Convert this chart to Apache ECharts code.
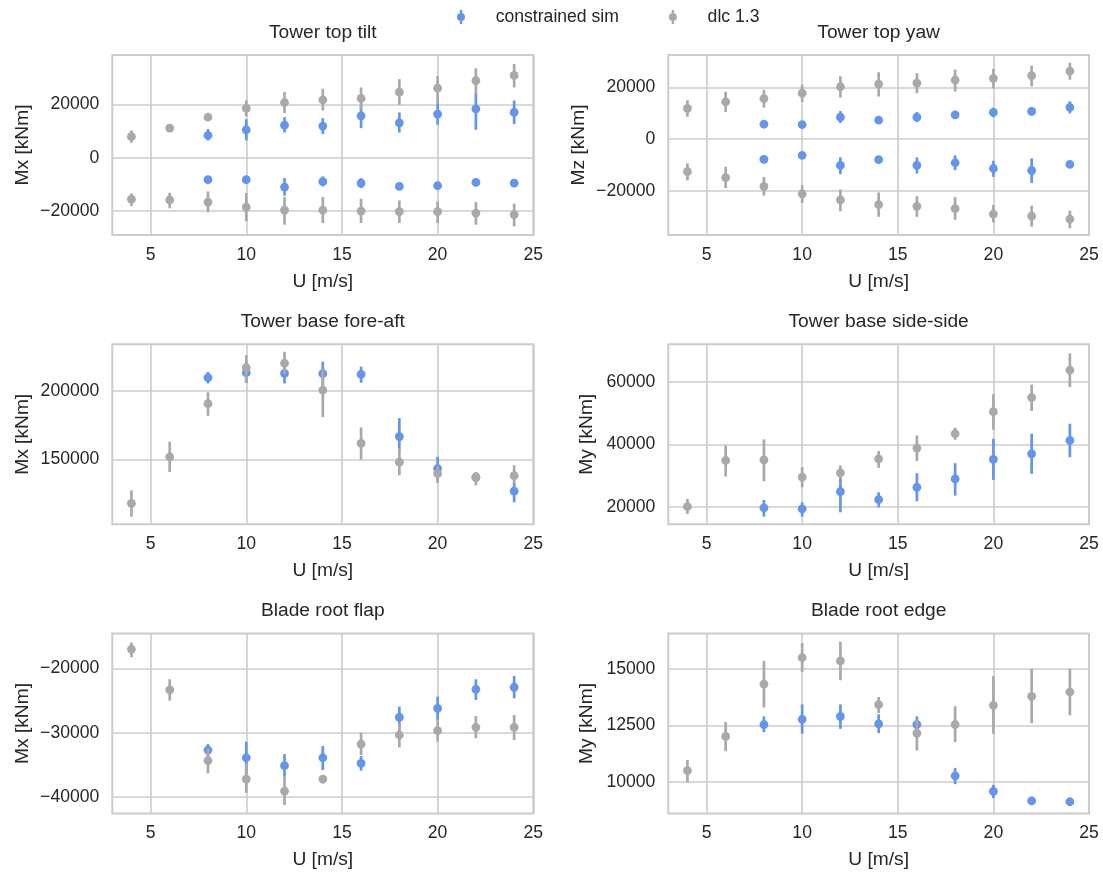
<!DOCTYPE html>
<html><head><meta charset="utf-8">
<script src="https://cdn.jsdelivr.net/npm/echarts@6/dist/echarts.min.js"></script>
<style>html,body{margin:0;padding:0;background:#fff}#chart{width:1103px;height:873px}</style>
</head><body><div id="chart"></div>
<script>
// ---------- data ----------
const windDlc = [4, 6, 8, 10, 12, 14, 16, 18, 20, 22, 24];
const windSim = [8, 10, 12, 14, 16, 18, 20, 22, 24];
const xTicks = [5, 10, 15, 20, 25];
const seriesNames = ['constrained sim', 'dlc 1.3'];
const panelTitles = ['Tower top tilt', 'Tower top yaw', 'Tower base fore-aft', 'Tower base side-side', 'Blade root flap', 'Blade root edge'];
const yLabels = ['Mx [kNm]', 'Mz [kNm]', 'Mx [kNm]', 'My [kNm]', 'Mx [kNm]', 'My [kNm]'];

// each entry: [mean, low, high]
// Tower top tilt
const tiltSimPos = [[8350,6480,10700],[10470,6480,14450],[12200,9470,15200],[11840,8850,14830],[15700,11090,19800],[13080,9470,16950],[16320,12340,20430],[18320,10470,24170],[16950,12580,21430]];
const tiltSimNeg = [[-8220,-8650,-7800],[-8220,-8650,-7800],[-10960,-14200,-7600],[-8970,-10720,-6980],[-9470,-11340,-7600],[-10720,-11150,-10300],[-10470,-10900,-10050],[-9220,-9650,-8800],[-9470,-9800,-9150]];
const tiltDlcPos = [[7900,5600,10200],[11100,10400,11800],[15200,14500,15900],[18440,15450,21430],[20680,16700,24550],[21680,17700,25800],[22180,17900,26300],[24550,19800,29400],[26040,20430,30650],[28900,23900,33500],[30800,26300,35100]];
const tiltDlcNeg = [[-15500,-18100,-13300],[-15800,-18900,-13100],[-16570,-20430,-12580],[-18440,-23800,-13210],[-19560,-25040,-14700],[-19560,-24420,-14700],[-19940,-24420,-15330],[-20190,-24420,-15950],[-20190,-24420,-16320],[-20680,-25040,-16570],[-21300,-25670,-17200]];
// Tower top yaw
const yawSimPos = [[5730,5300,6150],[5600,5200,6000],[8470,6250,10810],[7300,6900,7700],[8470,6510,10420],[9380,8900,9850],[10290,8470,12120],[10680,9120,12120],[12250,9900,14590]];
const yawSimNeg = [[-7820,-8250,-7400],[-6250,-6700,-5800],[-10160,-13550,-7040],[-7950,-8350,-7550],[-10160,-13290,-7040],[-9120,-11990,-6250],[-11340,-14590,-8340],[-12120,-16940,-7430],[-9770,-10150,-9400]];
const yawDlcPos = [[11860,8600,14980],[14330,10420,18240],[15640,12120,19020],[17720,14330,20980],[20200,16030,24230],[21240,16420,25800],[21630,17720,25410],[22800,18370,26840],[23450,19550,27100],[24500,20330,28400],[26190,22930,29450]];
const yawDlcNeg = [[-12510,-15900,-9380],[-14850,-18890,-10680],[-18240,-21760,-14590],[-21110,-24630,-17850],[-23450,-27880,-19410],[-25280,-29970,-20590],[-25930,-29970,-22020],[-26840,-31140,-22410],[-28930,-32180,-25410],[-29710,-33750,-25670],[-30880,-34400,-27620]];
// Tower base fore-aft
const foreAftSim = [[209850,205660,214040],[213550,206160,218970],[213050,205660,218470],[212810,201720,221670],[212320,206160,217980],[166750,157390,180300],[143350,134240,151970],[137190,134730,139170],[126850,118720,133500]];
const foreAftDlc = [[117980,108130,127340],[151970,140890,163050],[190890,182020,199260],[217240,206160,226350],[220440,212320,228820],[200740,181030,216010],[161820,150000,173400],[148030,138430,158130],[139660,132760,145080],[136700,131040,140890],[138180,132270,145820]];
// Tower base side-side
const sideSideSim = [[19630,16840,22200],[19310,16840,21450],[24880,18240,31640],[22310,19850,24670],[26280,21780,30780],[28960,23600,34000],[35180,28640,41820],[37000,30570,43430],[41290,35930,46650]];
const sideSideDlc = [[20060,17700,22530],[34850,29710,39680],[35070,28210,41610],[29490,26280,32710],[30890,28960,33250],[35390,32500,37860],[38820,34640,42890],[43430,41500,45360],[50510,44720,56080],[55010,50720,59190],[63800,58440,69160]];
// Blade root flap
const flapSim = [[-32700,-33640,-31770],[-33900,-36340,-31400],[-35140,-36860,-33330],[-33900,-35820,-32080],[-34780,-35920,-33640],[-27610,-29580,-25950],[-26210,-28030,-24390],[-23250,-24910,-21690],[-22930,-24650,-21170]];
const flapDlc = [[-17010,-18260,-15970],[-23350,-25010,-21690],[-34360,-36340,-32440],[-37220,-39350,-34780],[-39090,-41270,-36860],[-37220,-37900,-36600],[-31770,-33480,-30000],[-30360,-32290,-28550],[-29690,-31400,-27920],[-29170,-30880,-27400],[-29170,-31140,-27250]];
// Blade root edge
const edgeSim = [[12540,12200,12900],[12770,12130,13430],[12900,12350,13430],[12570,12160,12990],[12540,12130,12900],[10270,9900,10620],[9580,9280,9870],[9160,8980,9340],[9120,9020,9220]];
const edgeDlc = [[10500,9980,10970],[12010,11360,12650],[14330,13290,15360],[15500,14870,16140],[15360,14500,16210],[13420,13050,13760],[12160,11390,12750],[12540,11760,13350],[13390,12130,14680],[13790,12600,15000],[13980,12950,15000]];

// y tick labels per panel
const yTicks = [
  [-20000, 0, 20000],
  [-20000, 0, 20000],
  [150000, 200000],
  [20000, 40000, 60000],
  [-40000, -30000, -20000],
  [10000, 12500, 15000]
];
const yRanges = [[-28900, 38450], [-37000, 32450], [102600, 234300], [14400, 72100], [-42580, -14560], [8600, 16570]];

// ---------- styling / layout ----------
const TEXT = '#262626';
const FONT = '"Liberation Sans", Arial, Helvetica, sans-serif';
const BLUE = '#6495ED';
const GRAY = '#A9A9A9';
const GRIDC = '#cccccc';
const colLeft = [112.3, 668.3];
const colWidth = [421, 420.7];
const rowTop = [55, 344.3, 633.5];
const plotH = 180;
const yNameGap = [80, 80, 80, 72, 80, 72];

const grids = [], xAxes = [], yAxes = [], titles = [];
for (let i = 0; i < 6; i++) {
  const c = i % 2, r = Math.floor(i / 2);
  grids.push({left: colLeft[c], top: rowTop[r], width: colWidth[c], height: plotH,
    show: true, borderColor: GRIDC, borderWidth: 2, backgroundColor: 'transparent',
    containLabel: false, outerBoundsMode: 'none'});
  xAxes.push({type: 'value', gridIndex: i, min: 3, max: 25,
    name: 'U [m/s]', nameLocation: 'middle', nameGap: 37,
    nameTextStyle: {fontSize: 19.2, color: TEXT, fontFamily: FONT},
    axisLine: {show: false}, axisTick: {show: false, customValues: xTicks},
    axisLabel: {customValues: xTicks, fontSize: 17.6, color: TEXT, fontFamily: FONT, margin: 11},
    splitLine: {show: true, lineStyle: {color: GRIDC, width: 1.6}}});
  yAxes.push({type: 'value', gridIndex: i, min: yRanges[i][0], max: yRanges[i][1],
    name: yLabels[i], nameLocation: 'middle', nameGap: yNameGap[i], nameRotate: 90,
    nameTextStyle: {fontSize: 19.2, color: TEXT, fontFamily: FONT},
    axisLine: {show: false}, axisTick: {show: false, customValues: yTicks[i]},
    axisLabel: {customValues: yTicks[i], fontSize: 17.6, color: TEXT, fontFamily: FONT, margin: 13,
      formatter: v => (v < 0 ? '\u2212' + Math.abs(v) : String(v))},
    splitLine: {show: true, lineStyle: {color: GRIDC, width: 1.6}}});
  titles.push({text: panelTitles[i], left: colLeft[c] + colWidth[c] / 2, top: rowTop[r] - 32,
    textAlign: 'center', padding: 0,
    textStyle: {fontSize: 19.2, fontWeight: 'normal', color: TEXT, fontFamily: FONT}});
}

function renderErr(params, api) {
  const x = api.value(0), m = api.value(1), lo = api.value(2), hi = api.value(3);
  const pLo = api.coord([x, lo]), pHi = api.coord([x, hi]), pM = api.coord([x, m]);
  const color = api.visual('color');
  return {type: 'group', children: [
    {type: 'line', shape: {x1: pLo[0], y1: pLo[1], x2: pHi[0], y2: pHi[1]}, style: {stroke: color, lineWidth: 2.7}},
    {type: 'circle', shape: {cx: pM[0], cy: pM[1], r: 4.4}, style: {fill: color}}
  ]};
}
function errSeries(name, color, idx, xs, rows) {
  return {type: 'custom', name: name, xAxisIndex: idx, yAxisIndex: idx, renderItem: renderErr,
    itemStyle: {color: color}, encode: {x: 0, y: [1, 2, 3]}, silent: true, clip: false,
    data: xs.map((x, k) => [x, rows[k][0], rows[k][1], rows[k][2]])};
}

const series = [
  errSeries(seriesNames[0], BLUE, 0, windSim, tiltSimPos),
  errSeries(seriesNames[0], BLUE, 0, windSim, tiltSimNeg),
  errSeries(seriesNames[1], GRAY, 0, windDlc, tiltDlcPos),
  errSeries(seriesNames[1], GRAY, 0, windDlc, tiltDlcNeg),
  errSeries(seriesNames[0], BLUE, 1, windSim, yawSimPos),
  errSeries(seriesNames[0], BLUE, 1, windSim, yawSimNeg),
  errSeries(seriesNames[1], GRAY, 1, windDlc, yawDlcPos),
  errSeries(seriesNames[1], GRAY, 1, windDlc, yawDlcNeg),
  errSeries(seriesNames[0], BLUE, 2, windSim, foreAftSim),
  errSeries(seriesNames[1], GRAY, 2, windDlc, foreAftDlc),
  errSeries(seriesNames[0], BLUE, 3, windSim, sideSideSim),
  errSeries(seriesNames[1], GRAY, 3, windDlc, sideSideDlc),
  errSeries(seriesNames[0], BLUE, 4, windSim, flapSim),
  errSeries(seriesNames[1], GRAY, 4, windDlc, flapDlc),
  errSeries(seriesNames[0], BLUE, 5, windSim, edgeSim),
  errSeries(seriesNames[1], GRAY, 5, windDlc, edgeDlc)
];

const ICON = 'path://M0,0 M35,14 M4.1,0 L6.5,0 L6.5,14 L4.1,14 Z M5.3,3 A4,4 0 1,1 5.3,11 A4,4 0 1,1 5.3,3 Z';

const chart = echarts.init(document.getElementById('chart'), null, {renderer: 'canvas'});
chart.setOption({
  animation: false,
  backgroundColor: '#ffffff',
  title: titles,
  legend: {left: 455.7, top: 8, itemWidth: 35, itemHeight: 14, itemGap: 48.7, selectedMode: false,
    padding: 0, textStyle: {fontSize: 17.6, color: TEXT, fontFamily: FONT},
    data: seriesNames.map(n => ({name: n, icon: ICON}))},
  grid: grids,
  xAxis: xAxes,
  yAxis: yAxes,
  series: series
});
</script></body></html>
